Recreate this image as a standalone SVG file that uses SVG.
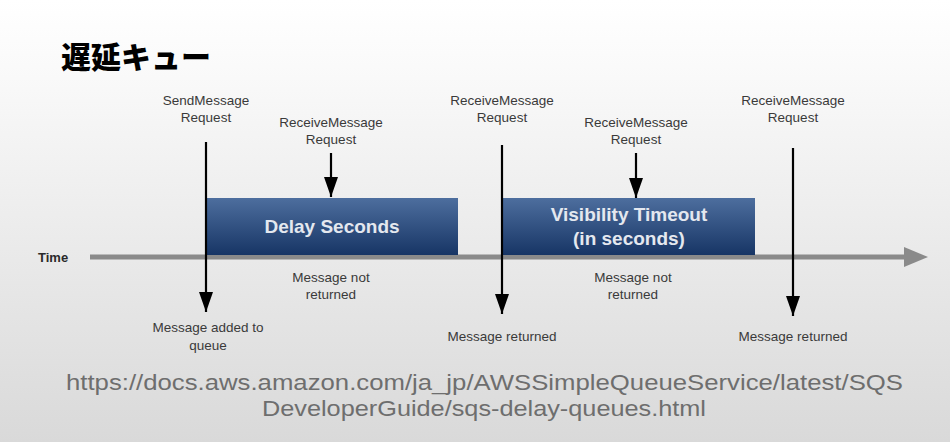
<svg xmlns="http://www.w3.org/2000/svg" width="950" height="442" viewBox="0 0 950 442">
<defs>
<linearGradient id="bg" x1="0" y1="0" x2="0" y2="1">
<stop offset="0" stop-color="#ffffff"/>
<stop offset="0.15" stop-color="#fafafa"/>
<stop offset="1" stop-color="#d9d9d9"/>
</linearGradient>
<linearGradient id="box" x1="0" y1="0" x2="0" y2="1">
<stop offset="0" stop-color="#4d6e9e"/>
<stop offset="1" stop-color="#173565"/>
</linearGradient>
<marker id="ah" markerWidth="20" markerHeight="14" refX="20" refY="7" orient="auto" markerUnits="userSpaceOnUse" viewBox="0 0 20 14">
<path d="M0,0 L20,7 L0,14 Z" fill="#000"/>
</marker>
</defs>
<style>
.lbl{font-family:"Liberation Sans",Arial,sans-serif;font-size:13.5px;fill:#3a3a3a;text-anchor:middle}
.sub{font-family:"Liberation Sans",Arial,sans-serif;font-size:13.5px;fill:#3a3a3a;text-anchor:middle}
.boxt{font-family:"Liberation Sans",Arial,sans-serif;font-size:19px;font-weight:bold;fill:#e4e8ef;text-anchor:middle}
.url{font-family:"Liberation Sans",Arial,sans-serif;font-size:22px;fill:#6e6e6e}
.v{stroke:#000;stroke-width:2.2;fill:none}
</style>
<rect width="950" height="442" fill="url(#bg)"/>
<text x="61" y="68" font-family="Noto Sans CJK JP, sans-serif" font-size="30" font-weight="900" fill="#000">遅延キュー</text>

<g id="timeline">
<line x1="90" y1="257" x2="906" y2="257" stroke="#8a8a8a" stroke-width="5"/>
<polygon points="904,247 928,257 904,267" fill="#8a8a8a"/>
<text x="38" y="262" font-family="Liberation Sans, Arial, sans-serif" font-size="13" font-weight="bold" fill="#2a2a2a">Time</text>
</g>

<g id="delay-seconds">
<rect x="207" y="198" width="251" height="57" fill="url(#box)"/>
<text class="boxt" x="332" y="233">Delay Seconds</text>
</g>
<g id="visibility-timeout">
<rect x="503" y="198" width="252" height="57" fill="url(#box)"/>
<text class="boxt" x="629" y="221">Visibility Timeout</text>
<text class="boxt" x="629" y="245">(in seconds)</text>
</g>

<g id="connectors">
<line class="v" x1="206" y1="142" x2="206" y2="312" marker-end="url(#ah)"/>
<line class="v" x1="331" y1="153" x2="331" y2="197" marker-end="url(#ah)"/>
<line class="v" x1="502" y1="145" x2="502" y2="314" marker-end="url(#ah)"/>
<line class="v" x1="636" y1="153" x2="636" y2="198" marker-end="url(#ah)"/>
<line class="v" x1="793" y1="148" x2="793" y2="316" marker-end="url(#ah)"/>
</g>

<g id="send-request">
<text class="lbl" x="206" y="105">SendMessage</text>
<text class="lbl" x="206" y="122">Request</text>
</g>
<g id="receive-request-1">
<text class="lbl" x="331" y="127">ReceiveMessage</text>
<text class="lbl" x="331" y="144">Request</text>
</g>
<g id="receive-request-2">
<text class="lbl" x="502" y="105">ReceiveMessage</text>
<text class="lbl" x="502" y="122">Request</text>
</g>
<g id="receive-request-3">
<text class="lbl" x="636" y="127">ReceiveMessage</text>
<text class="lbl" x="636" y="144">Request</text>
</g>
<g id="receive-request-4">
<text class="lbl" x="793" y="105">ReceiveMessage</text>
<text class="lbl" x="793" y="122">Request</text>
</g>

<g id="not-returned-1">
<text class="sub" x="331" y="282">Message not</text>
<text class="sub" x="331" y="299">returned</text>
</g>
<g id="not-returned-2">
<text class="sub" x="633" y="282">Message not</text>
<text class="sub" x="633" y="299">returned</text>
</g>
<g id="added">
<text class="sub" x="208" y="332">Message added to</text>
<text class="sub" x="208" y="350">queue</text>
</g>
<g id="returned-1">
<text class="sub" x="502" y="341">Message returned</text>
</g>
<g id="returned-2">
<text class="sub" x="793" y="341">Message returned</text>
</g>

<text class="url" x="66" y="390" textLength="837" lengthAdjust="spacingAndGlyphs">https://docs.aws.amazon.com/ja_jp/AWSSimpleQueueService/latest/SQS</text>
<text class="url" x="262" y="416" textLength="444" lengthAdjust="spacingAndGlyphs">DeveloperGuide/sqs-delay-queues.html</text>
</svg>
